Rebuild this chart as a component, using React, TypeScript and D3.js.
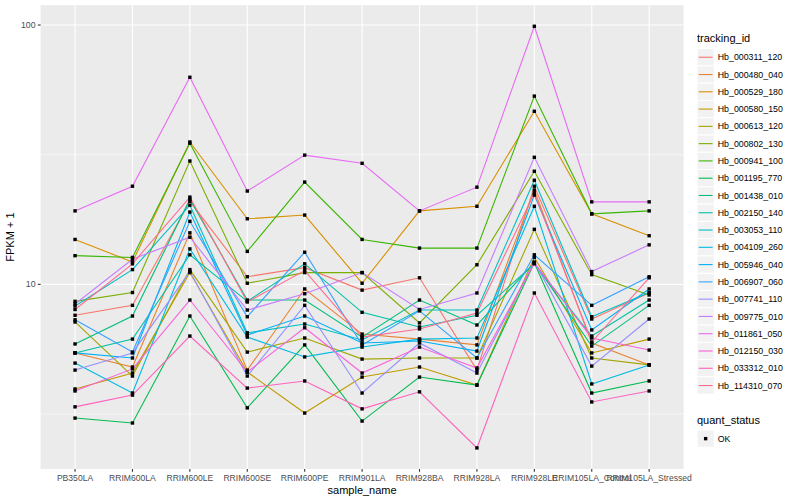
import * as d3 from "d3";
import { useEffect, useRef } from "react";

const samples = [
  "PB350LA",
  "RRIM600LA",
  "RRIM600LE",
  "RRIM600SE",
  "RRIM600PE",
  "RRIM901LA",
  "RRIM928BA",
  "RRIM928LA",
  "RRIM928LE",
  "RRIM105LA_Control",
  "RRIM105LA_Stressed",
];

const trackingIds = [
  "Hb_000311_120",
  "Hb_000480_040",
  "Hb_000529_180",
  "Hb_000580_150",
  "Hb_000613_120",
  "Hb_000802_130",
  "Hb_000941_100",
  "Hb_001195_770",
  "Hb_001438_010",
  "Hb_002150_140",
  "Hb_003053_110",
  "Hb_004109_260",
  "Hb_005946_040",
  "Hb_006907_060",
  "Hb_007741_110",
  "Hb_009775_010",
  "Hb_011861_050",
  "Hb_012150_030",
  "Hb_033312_010",
  "Hb_114310_070",
];

// FPKM + 1, one value per sample
const hb000311_120 = [7.6, 8.3, 20.9, 10.7, 11.6, 9.5, 10.6, 4.67, 23.9, 7.35, 9.26];
const hb000480_040 = [5.44, 4.8, 15.8, 4.67, 9.6, 6.43, 6.15, 5.84, 23.1, 5.94, 4.89];
const hb000529_180 = [14.9, 12.2, 35.4, 17.9, 18.5, 10.1, 19.2, 20.0, 46.5, 18.7, 15.4];
const hb000580_150 = [3.95, 4.55, 11.1, 4.59, 3.19, 4.39, 4.8, 4.09, 12.7, 5.44, 6.15];
const hb000613_120 = [7.16, 4.43, 11.4, 5.48, 6.21, 5.15, 5.2, 5.2, 16.3, 5.2, 4.89];
const hb000802_130 = [8.6, 9.3, 29.9, 10.1, 11.1, 11.1, 7.1, 11.9, 27.3, 10.9, 9.1];
const hb000941_100 = [12.9, 12.7, 35.0, 13.4, 24.8, 14.9, 13.8, 13.8, 53.2, 18.7, 19.2];
const hb001195_770 = [3.05, 2.92, 7.55, 3.34, 5.84, 2.97, 4.39, 4.09, 12.1, 3.81, 4.24];
const hb001438_010 = [5.89, 7.55, 21.3, 8.7, 8.7, 6.26, 8.7, 6.97, 12.1, 5.78, 8.3];
const hb002150_140 = [5.44, 6.15, 13.0, 8.6, 12.0, 7.8, 6.85, 7.6, 12.0, 6.32, 8.7];
const hb003053_110 = [8.25, 11.4, 20.2, 6.5, 7.03, 6.1, 7.96, 7.96, 25.2, 7.5, 9.3];
const hb004109_260 = [4.97, 3.81, 13.7, 6.26, 5.25, 5.73, 6.15, 6.21, 20.0, 4.13, 4.89];
const hb005946_040 = [5.44, 5.2, 19.0, 6.38, 7.55, 5.94, 6.05, 5.53, 22.1, 6.67, 9.6];
const hb006907_060 = [7.3, 5.48, 17.5, 7.5, 13.3, 5.84, 7.9, 5.2, 13.0, 8.3, 10.7];
const hb007741_110 = [4.67, 5.44, 11.2, 4.43, 8.3, 3.81, 5.94, 4.55, 12.2, 4.84, 7.35];
const hb009775_010 = [8.4, 12.5, 15.2, 7.96, 9.2, 11.1, 8.0, 9.26, 30.9, 11.2, 14.2];
const hb011861_050 = [19.2, 23.9, 62.9, 22.9, 31.5, 29.3, 19.2, 23.7, 98.9, 20.8, 20.8];
const hb012150_030 = [3.88, 4.72, 8.7, 4.59, 6.8, 4.55, 5.73, 4.76, 12.1, 6.21, 5.58];
const hb033312_010 = [3.37, 3.74, 6.32, 3.98, 4.24, 3.31, 3.85, 2.34, 9.26, 3.52, 3.88];
const hb114310_070 = [8.0, 12.0, 21.7, 8.55, 11.3, 6.26, 6.73, 7.75, 22.5, 5.99, 10.6];

const series = [
  hb000311_120, hb000480_040, hb000529_180, hb000580_150, hb000613_120,
  hb000802_130, hb000941_100, hb001195_770, hb001438_010, hb002150_140,
  hb003053_110, hb004109_260, hb005946_040, hb006907_060, hb007741_110,
  hb009775_010, hb011861_050, hb012150_030, hb033312_010, hb114310_070,
];

const yBreaks = [10, 100];
const quantStatus = ["OK"];

// ggplot hue palette, 20 levels
const palette = [
  "#F8766D", "#EA8331", "#D89000", "#C09B00", "#A3A500",
  "#7CAE00", "#39B600", "#00BB4E", "#00BF7D", "#00C1A3",
  "#00BFC4", "#00BAE0", "#00B0F6", "#35A2FF", "#9590FF",
  "#C77CFF", "#E76BF3", "#FA62DB", "#FF62BC", "#FF6C91",
];

const FONT = "'Liberation Sans', Arial, Helvetica, sans-serif";

export default function App() {
  const ref = useRef<SVGSVGElement | null>(null);

  useEffect(() => {
    if (!ref.current) return;
    const svg = d3.select(ref.current);
    svg.selectAll("*").remove();

    const left = 40.6;
    const right = 683.6;
    const top = 5.2;
    const bottom = 469;

    const x = d3.scalePoint<string>().domain(samples).range([left, right]).padding(0.6);

    const all = series.flat();
    const lo = Math.log10(d3.min(all)!);
    const hi = Math.log10(d3.max(all)!);
    const pad = (hi - lo) * 0.05;
    const y = d3
      .scaleLog()
      .domain([Math.pow(10, lo - pad), Math.pow(10, hi + pad)])
      .range([bottom, top]);

    svg.append("rect").attr("width", 800).attr("height", 500).attr("fill", "#fff");

    svg
      .append("rect")
      .attr("x", left)
      .attr("y", top)
      .attr("width", right - left)
      .attr("height", bottom - top)
      .attr("fill", "#EBEBEB");

    const grid = svg.append("g");
    const minor = [Math.sqrt(10), Math.sqrt(1000)];
    grid
      .selectAll("line.minor")
      .data(minor)
      .join("line")
      .attr("x1", left)
      .attr("x2", right)
      .attr("y1", (d) => y(d))
      .attr("y2", (d) => y(d))
      .attr("stroke", "#fff")
      .attr("stroke-width", 0.55);
    grid
      .selectAll("line.ymaj")
      .data(yBreaks)
      .join("line")
      .attr("x1", left)
      .attr("x2", right)
      .attr("y1", (d) => y(d))
      .attr("y2", (d) => y(d))
      .attr("stroke", "#fff")
      .attr("stroke-width", 1.1);
    grid
      .selectAll("line.xmaj")
      .data(samples)
      .join("line")
      .attr("x1", (d) => x(d)!)
      .attr("x2", (d) => x(d)!)
      .attr("y1", top)
      .attr("y2", bottom)
      .attr("stroke", "#fff")
      .attr("stroke-width", 1.1);

    const line = d3
      .line<number>()
      .x((_d, i) => x(samples[i])!)
      .y((d) => y(d));

    svg
      .append("g")
      .selectAll("path")
      .data(series)
      .join("path")
      .attr("d", (d) => line(d))
      .attr("fill", "none")
      .attr("stroke", (_d, i) => palette[i])
      .attr("stroke-width", 1.1);

    const pts = series.flatMap((s) => s.map((v, i) => ({ v, i })));
    const sq = 3.4;
    svg
      .append("g")
      .selectAll("rect")
      .data(pts)
      .join("rect")
      .attr("x", (d) => x(samples[d.i])! - sq / 2)
      .attr("y", (d) => y(d.v) - sq / 2)
      .attr("width", sq)
      .attr("height", sq)
      .attr("fill", "#000");

    // axes
    const ax = svg.append("g").attr("font-family", FONT);
    ax.selectAll("line.xt")
      .data(samples)
      .join("line")
      .attr("x1", (d) => x(d)!)
      .attr("x2", (d) => x(d)!)
      .attr("y1", bottom)
      .attr("y2", bottom + 2.75)
      .attr("stroke", "#333")
      .attr("stroke-width", 1.1);
    ax.selectAll("text.xl")
      .data(samples)
      .join("text")
      .attr("x", (d) => x(d)!)
      .attr("y", bottom + 12.4)
      .attr("text-anchor", "middle")
      .attr("font-size", 8.6)
      .attr("fill", "#4D4D4D")
      .text((d) => d);

    const ay = svg.append("g").attr("font-family", FONT);
    ay.selectAll("line")
      .data(yBreaks)
      .join("line")
      .attr("x1", left - 2.75)
      .attr("x2", left)
      .attr("y1", (d) => y(d))
      .attr("y2", (d) => y(d))
      .attr("stroke", "#333")
      .attr("stroke-width", 1.1);
    ay.selectAll("text")
      .data(yBreaks)
      .join("text")
      .attr("x", left - 5)
      .attr("y", (d) => y(d) + 3.1)
      .attr("text-anchor", "end")
      .attr("font-size", 8.8)
      .attr("fill", "#4D4D4D")
      .text((d) => String(d));

    svg
      .append("text")
      .attr("x", (left + right) / 2)
      .attr("y", 494)
      .attr("text-anchor", "middle")
      .attr("font-family", FONT)
      .attr("font-size", 11)
      .attr("fill", "#000")
      .text("sample_name");

    svg
      .append("text")
      .attr("transform", `translate(14,${(top + bottom) / 2}) rotate(-90)`)
      .attr("text-anchor", "middle")
      .attr("font-family", FONT)
      .attr("font-size", 11)
      .attr("fill", "#000")
      .text("FPKM + 1");

    // legend: tracking_id
    const lx = 697;
    const key = 17.28;
    const lg = svg.append("g").attr("font-family", FONT);
    lg.append("text")
      .attr("x", lx)
      .attr("y", 42)
      .attr("font-size", 11)
      .text("tracking_id");
    const rows = lg
      .selectAll("g.row")
      .data(trackingIds)
      .join("g")
      .attr("transform", (_d, i) => `translate(${lx},${48.6 + i * key})`);
    rows
      .append("rect")
      .attr("width", key)
      .attr("height", key)
      .attr("fill", "#F2F2F2")
      .attr("stroke", "#fff");
    rows
      .append("line")
      .attr("x1", 1.7)
      .attr("x2", key - 1.7)
      .attr("y1", key / 2)
      .attr("y2", key / 2)
      .attr("stroke", (_d, i) => palette[i])
      .attr("stroke-width", 1.1);
    rows
      .append("text")
      .attr("x", key + 3.5)
      .attr("y", key / 2 + 3.1)
      .attr("font-size", 8.8)
      .text((d) => d);

    // legend: quant_status
    lg.append("text")
      .attr("x", lx)
      .attr("y", 424)
      .attr("font-size", 11)
      .text("quant_status");
    const qs = lg
      .selectAll("g.qs")
      .data(quantStatus)
      .join("g")
      .attr("transform", (_d, i) => `translate(${lx},${430 + i * key})`);
    qs.append("rect")
      .attr("width", key)
      .attr("height", key)
      .attr("fill", "#F2F2F2")
      .attr("stroke", "#fff");
    qs.append("rect")
      .attr("x", key / 2 - sq / 2)
      .attr("y", key / 2 - sq / 2)
      .attr("width", sq)
      .attr("height", sq)
      .attr("fill", "#000");
    qs.append("text")
      .attr("x", key + 3.5)
      .attr("y", key / 2 + 3.1)
      .attr("font-size", 8.8)
      .text((d) => d);
  }, []);

  return (
    <div style={{ position: "absolute", left: 0, top: 0 }}>
      <svg ref={ref} width={800} height={500} style={{ display: "block" }} />
    </div>
  );
}
